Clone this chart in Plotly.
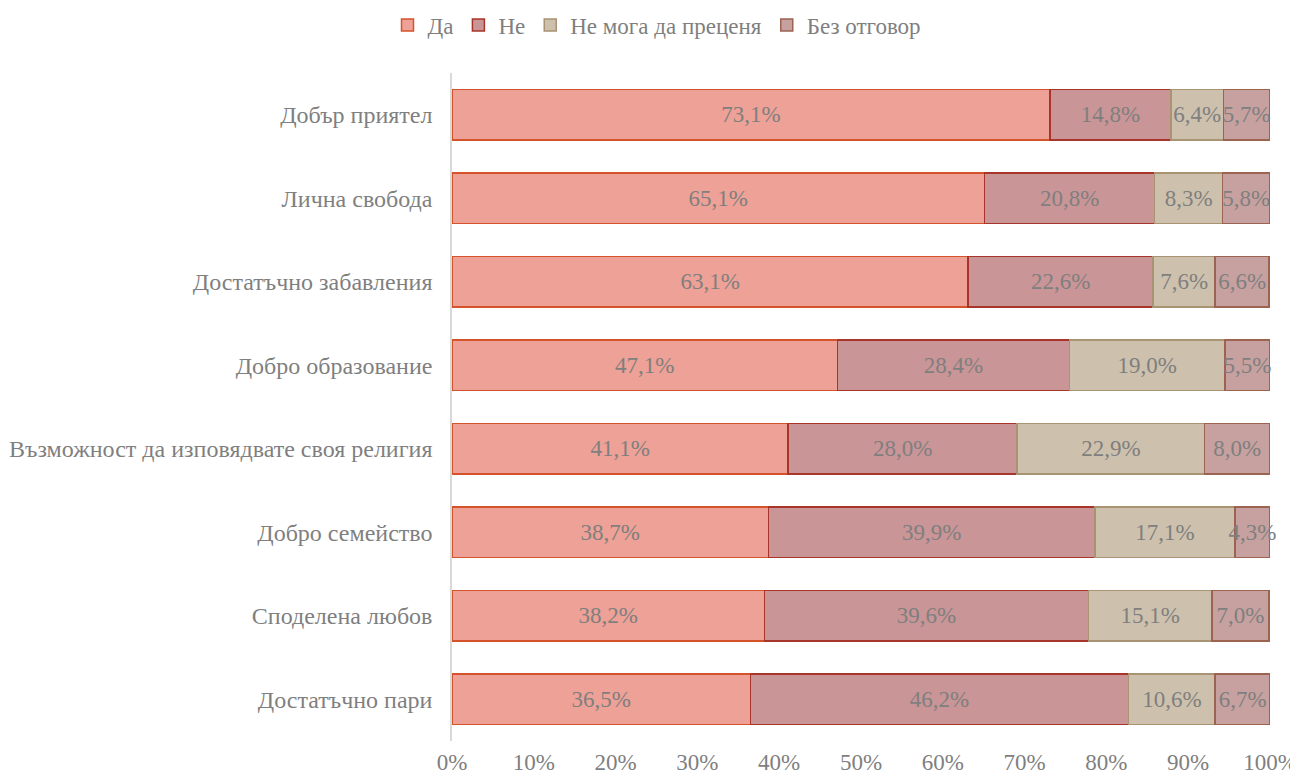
import plotly.graph_objects as go

categories = [
    "Добър приятел",
    "Лична свобода",
    "Достатъчно забавления",
    "Добро образование",
    "Възможност да изповядвате своя религия",
    "Добро семейство",
    "Споделена любов",
    "Достатъчно пари",
]
series_names = ["Да", "Не", "Не мога да преценя", "Без отговор"]
da = [73.1, 65.1, 63.1, 47.1, 41.1, 38.7, 38.2, 36.5]
ne = [14.8, 20.8, 22.6, 28.4, 28.0, 39.9, 39.6, 46.2]
ne_moga = [6.4, 8.3, 7.6, 19.0, 22.9, 17.1, 15.1, 10.6]
bez_otgovor = [5.7, 5.8, 6.6, 5.5, 8.0, 4.3, 7.0, 6.7]
tick_vals = [0, 10, 20, 30, 40, 50, 60, 70, 80, 90, 100]
tick_text = [f"{v}%" for v in tick_vals]

series_values = [da, ne, ne_moga, bez_otgovor]
fills = ["#eea196", "#c99597", "#cdc1ad", "#c7a1a0"]
borders = ["#d4532a", "#a8352a", "#a89372", "#9c6350"]

FONT = "Liberation Serif"
GREY = "#7f7f7f"

fig = go.Figure()
for name, vals, fill, border in zip(series_names, series_values, fills, borders):
    fig.add_trace(
        go.Bar(
            y=categories,
            x=vals,
            name=name,
            orientation="h",
            marker=dict(color=fill, line=dict(color=border, width=1.5)),
            text=[f"{v:.1f}%".replace(".", ",") for v in vals],
            textposition="inside",
            insidetextanchor="middle",
            textangle=0,
            constraintext="none",
            textfont=dict(family=FONT, size=23, color=GREY),
            cliponaxis=False,
        )
    )

# page body adds an 8px offset, margins below compensate for it
fig.update_layout(
    barmode="stack",
    bargap=0.4,
    width=1298,
    height=778,
    plot_bgcolor="white",
    paper_bgcolor="white",
    font=dict(family=FONT, size=23, color=GREY),
    margin=dict(l=444, r=36, t=65, b=45, autoexpand=False),
    legend=dict(
        orientation="h",
        traceorder="normal",
        xref="container",
        x=0.5,
        xanchor="center",
        yref="container",
        y=0.978,
        yanchor="middle",
        font=dict(family=FONT, size=23, color=GREY),
        itemwidth=30,
    ),
    xaxis=dict(
        range=[0, 100],
        tickvals=tick_vals,
        ticktext=tick_text,
        showgrid=False,
        zeroline=False,
        showline=False,
        ticks="",
        automargin=False,
        ticklabelstandoff=5,
        tickfont=dict(family=FONT, size=23, color=GREY),
    ),
    yaxis=dict(
        autorange="reversed",
        showgrid=False,
        showline=True,
        linecolor="#d9d9d9",
        linewidth=1.5,
        ticks="",
        automargin=False,
        ticklabelstandoff=13,
        tickfont=dict(family=FONT, size=24, color=GREY),
    ),
)

fig.write_html("out.html")
